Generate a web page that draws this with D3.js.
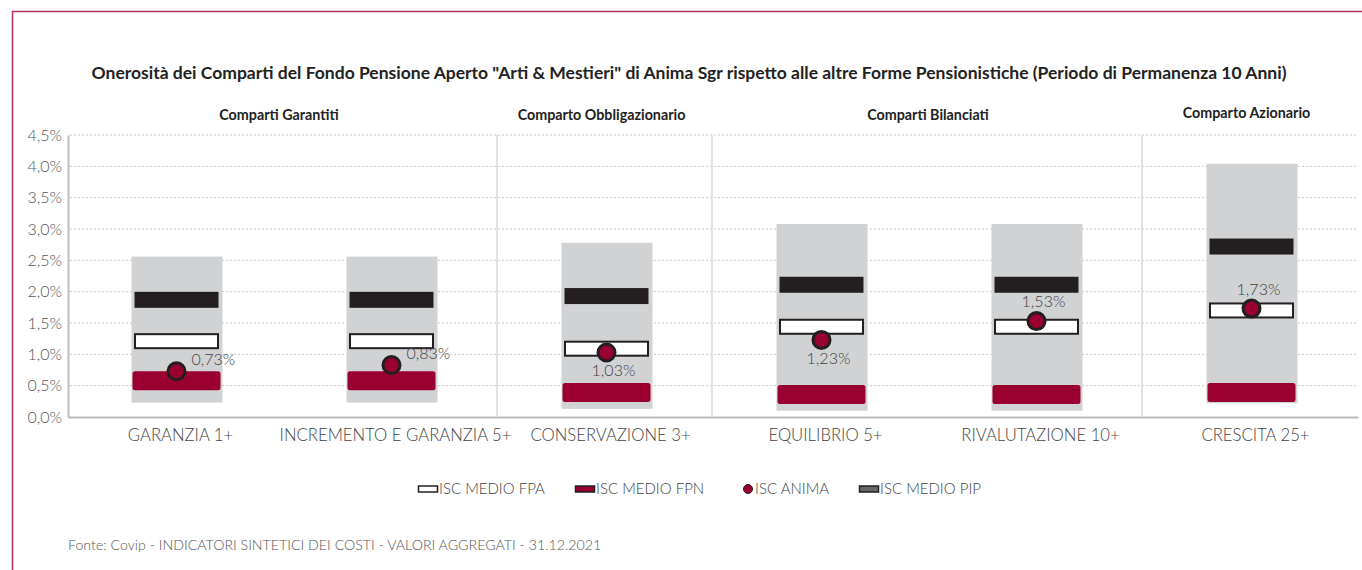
<!DOCTYPE html>
<html>
<head>
<meta charset="utf-8">
<script src="https://cdn.jsdelivr.net/npm/d3@7"></script>
<style>
  body { margin: 0; background: #fff; }
  svg { display: block; font-family: Lato, "Open Sans", sans-serif; }
</style>
</head>
<body>
<svg id="chart" width="1362" height="570"></svg>
<script>
var categories = ["GARANZIA 1+", "INCREMENTO E GARANZIA 5+", "CONSERVAZIONE 3+", "EQUILIBRIO 5+", "RIVALUTAZIONE 10+", "CRESCITA 25+"]
var rangeMin = [0.23, 0.23, 0.13, 0.10, 0.10, 0.22]
var rangeMax = [2.56, 2.56, 2.78, 3.08, 3.08, 4.04]
var iscPip = [1.87, 1.87, 1.93, 2.11, 2.11, 2.72]
var iscFpa = [1.21, 1.21, 1.09, 1.44, 1.44, 1.70]
var iscFpn = [0.58, 0.58, 0.39, 0.36, 0.36, 0.39]
var iscAnima = [0.73, 0.83, 1.03, 1.23, 1.53, 1.73]
var labelPos = ["right", "right", "below", "below", "above", "above"]

var groupNames = ["Comparti Garantiti", "Comparto Obbligazionario", "Comparti Bilanciati", "Comparto Azionario"]
var groupSizes = [2, 1, 2, 1]

var yTicks = [0, 0.5, 1, 1.5, 2, 2.5, 3, 3.5, 4, 4.5]
var legendLabels = ["ISC MEDIO FPA", "ISC MEDIO FPN", "ISC ANIMA", "ISC MEDIO PIP"]

var title = 'Onerosità dei Comparti del Fondo Pensione Aperto "Arti & Mestieri" di Anima Sgr rispetto alle altre Forme Pensionistiche (Periodo di Permanenza 10 Anni)'
var source = "Fonte: Covip - INDICATORI SINTETICI DEI COSTI - VALORI AGGREGATI - 31.12.2021"

var red = "#990030", dark = "#231f20", grey = "#d1d2d4"
var fmt = function(v) { return d3.format(".2f")(v).replace(".", ",") + "%" }
var fmtTick = function(v) { return d3.format(".1f")(v).replace(".", ",") + "%" }

var svg = d3.select("#chart")
var plotLeft = 68, plotRight = 1358, plotTop = 135, plotBottom = 417

var x = d3.scaleBand().domain(categories).range([plotLeft, plotRight])
var y = d3.scaleLinear().domain([0, 4.5]).range([plotBottom, plotTop])
var cx = function(i) { return x(categories[i]) + x.bandwidth() / 2 + 1 }

// frame
svg.append("path")
    .attr("d", "M12.5,570 L12.5,11.5 L1362,11.5")
    .attr("fill", "none")
    .attr("stroke", "#b3325c")
    .attr("stroke-width", 1.5)

svg.append("text")
    .attr("x", 689).attr("y", 79)
    .attr("text-anchor", "middle")
    .attr("font-size", 17.5).attr("font-weight", 700).attr("fill", "#222")
    .text(title)

// gridlines
svg.append("g").selectAll("line")
    .data(yTicks.filter(function(d) { return d > 0 }))
    .enter().append("line")
    .attr("x1", plotLeft + 2).attr("x2", plotRight)
    .attr("y1", function(d) { return y(d) }).attr("y2", function(d) { return y(d) })
    .attr("stroke", "#c8c8c8").attr("stroke-dasharray", "2,2")

var yAxis = svg.append("g")
    .attr("transform", "translate(" + plotLeft + ",0)")
    .call(d3.axisLeft(y).tickValues(yTicks).tickFormat(fmtTick).tickSize(0).tickPadding(6))
yAxis.select(".domain").attr("stroke", "#bbb").attr("stroke-width", 2)
yAxis.selectAll("text").attr("font-size", 16).attr("font-weight", 300).attr("fill", "#555").attr("font-family", "Lato")

var xAxis = svg.append("g")
    .attr("transform", "translate(0," + plotBottom + ")")
    .call(d3.axisBottom(x).tickSize(0).tickPadding(12))
xAxis.select(".domain").attr("stroke", "#bbb").attr("stroke-width", 2)
xAxis.selectAll("text").attr("dx", 5).attr("font-size", 16.7).attr("font-weight", 300).attr("fill", "#444").attr("font-family", "Lato")

// group separators and headers
var start = 0
groupNames.forEach(function(name, g) {
    var x0 = x(categories[start])
    var x1 = x(categories[start + groupSizes[g] - 1]) + x.bandwidth()
    if (start > 0) {
        svg.append("line")
            .attr("x1", x0 - 1).attr("x2", x0 - 1)
            .attr("y1", plotTop).attr("y2", plotBottom)
            .attr("stroke", "#e2e2e2").attr("stroke-width", 2)
    }
    svg.append("text")
        .attr("x", (x0 + x1) / 2 - (g == 2 ? 0 : 4)).attr("y", g == 3 ? 118 : 120)
        .attr("text-anchor", "middle")
        .attr("font-size", 14.3).attr("font-weight", 700).attr("fill", "#222")
        .text(name)
    start += groupSizes[g]
})

var idx = d3.range(categories.length)

// range bars
svg.append("g").selectAll("rect")
    .data(idx).enter().append("rect")
    .attr("x", function(i) { return cx(i) - 45 })
    .attr("width", 91)
    .attr("y", function(i) { return y(rangeMax[i]) })
    .attr("height", function(i) { return y(rangeMin[i]) - y(rangeMax[i]) })
    .attr("fill", grey)

// ISC medio PIP
svg.append("g").selectAll("rect")
    .data(idx).enter().append("rect")
    .attr("x", function(i) { return cx(i) - 42 })
    .attr("width", 84)
    .attr("y", function(i) { return y(iscPip[i]) - 8 })
    .attr("height", 16)
    .attr("fill", dark)

// ISC medio FPA
svg.append("g").selectAll("rect")
    .data(idx).enter().append("rect")
    .attr("x", function(i) { return cx(i) - 41.5 })
    .attr("width", 83)
    .attr("y", function(i) { return y(iscFpa[i]) - 7 })
    .attr("height", 14)
    .attr("fill", "#fff").attr("stroke", dark).attr("stroke-width", 2)

// ISC medio FPN
svg.append("g").selectAll("rect")
    .data(idx).enter().append("rect")
    .attr("x", function(i) { return cx(i) - 44 })
    .attr("width", 88)
    .attr("y", function(i) { return y(iscFpn[i]) - 9.5 })
    .attr("height", 19)
    .attr("rx", 2.5)
    .attr("fill", red)

// ISC Anima
svg.append("g").selectAll("circle")
    .data(idx).enter().append("circle")
    .attr("cx", function(i) { return cx(i) })
    .attr("cy", function(i) { return y(iscAnima[i]) })
    .attr("r", 8.5)
    .attr("fill", red).attr("stroke", dark).attr("stroke-width", 3)

svg.append("g").selectAll("text")
    .data(idx).enter().append("text")
    .attr("x", function(i) { return labelPos[i] == "right" ? cx(i) + 15 : cx(i) + 7 })
    .attr("y", function(i) {
        var p = labelPos[i]
        return y(iscAnima[i]) + (p == "right" ? -6 : p == "below" ? 24 : -14)
    })
    .attr("text-anchor", function(i) { return labelPos[i] == "right" ? "start" : "middle" })
    .attr("font-size", 16).attr("font-weight", 300).attr("fill", "#444")
    .text(function(i) { return fmt(iscAnima[i]) })

// legend
var legendX = [418, 575, 744, 859]
var legend = svg.append("g").selectAll("g")
    .data(legendLabels).enter().append("g")
    .attr("transform", function(d, i) { return "translate(" + legendX[i] + ",489)" })

legend.each(function(d, i) {
    var g = d3.select(this)
    if (i == 2) {
        g.append("circle").attr("cx", 4).attr("cy", 0).attr("r", 4.5).attr("fill", red).attr("stroke", dark).attr("stroke-width", 1)
        g.append("text").attr("x", 11).attr("y", 5).text(d)
    } else {
        g.append("rect").attr("x", 0.5).attr("y", -3).attr("width", 19).attr("height", 6)
            .attr("fill", i == 0 ? "#fff" : i == 1 ? red : "#666")
            .attr("stroke", dark).attr("stroke-width", 1.5)
        g.append("text").attr("x", 21).attr("y", 5).text(d)
    }
})
legend.selectAll("text").attr("font-size", 15).attr("font-weight", 300).attr("fill", "#444")

svg.append("text")
    .attr("x", 68).attr("y", 550)
    .attr("font-size", 14.2).attr("font-weight", 300).attr("fill", "#555")
    .text(source)
</script>
</body>
</html>
